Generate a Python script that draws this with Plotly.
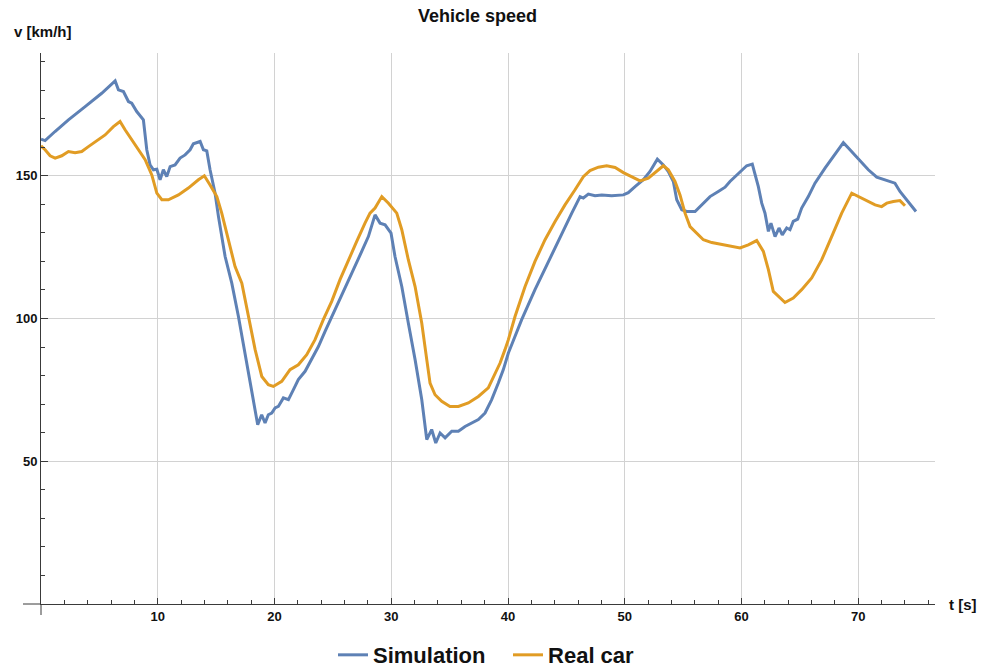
import plotly.graph_objects as go

# ---- data ----
sim_t = [0.0, 0.35, 1.2, 2.35, 3.78, 5.2, 6.35, 6.63, 7.06, 7.49, 7.77, 8.2, 8.77, 9.06, 9.34, 9.63,
         9.92, 10.2, 10.48, 10.77, 11.06, 11.48, 11.91, 12.34, 12.77, 13.05, 13.63, 13.91, 14.2, 14.48,
         14.91, 15.2, 15.77, 16.34, 16.91, 17.48, 18.05, 18.56, 18.9, 19.19, 19.47, 19.76, 20.05, 20.33,
         20.76, 21.19, 21.62, 22.04, 22.62, 23.19, 23.76, 24.33, 24.9, 25.76, 26.62, 27.47, 28.04, 28.61,
         29.04, 29.47, 29.98, 30.32, 30.9, 31.46, 32.04, 32.61, 33.04, 33.46, 33.81, 34.18, 34.61, 35.18,
         35.75, 36.32, 36.89, 37.46, 38.03, 38.6, 39.17, 39.6, 40.03, 41.17, 42.31, 43.45, 44.6, 45.46,
         46.17, 46.45, 46.88, 47.45, 48.03, 48.88, 49.88, 50.3, 50.88, 51.59, 52.16, 52.79, 53.3, 53.73,
         54.16, 54.45, 54.88, 55.3, 56.02, 56.59, 57.3, 58.01, 58.59, 59.01, 59.72, 60.44, 60.92, 61.15,
         61.44, 61.73, 62.01, 62.3, 62.52, 62.87, 63.21, 63.49, 63.87, 64.15, 64.43, 64.81, 65.15, 65.72,
         66.29, 67.15, 68.0, 68.72, 69.15, 70.0, 70.86, 71.58, 72.29, 73.14, 73.57, 74.14, 74.94]
sim_v = [162.8, 162.3, 165.5, 169.6, 174.2, 178.9, 183.2, 180.1, 179.5, 176.0, 175.4, 172.5, 169.6, 159.1,
         153.8, 152.1, 152.3, 148.6, 152.1, 149.7, 153.2, 153.8, 156.2, 157.3, 159.1, 161.2, 162.0, 159.1,
         158.7, 152.1, 143.9, 135.7, 121.7, 112.4, 100.7, 87.9, 75.1, 62.8, 66.3, 63.4, 66.3, 66.9, 68.7,
         69.2, 72.2, 71.6, 75.1, 78.6, 81.5, 85.6, 90.2, 95.5, 100.7, 108.3, 115.9, 123.5, 128.7, 136.3,
         133.4, 132.8, 129.9, 121.7, 111.2, 98.4, 85.6, 71.6, 57.6, 61.1, 56.4, 59.9, 58.2, 60.5, 60.5,
         62.2, 63.4, 64.6, 66.9, 71.6, 77.4, 82.1, 87.9, 99.6, 110.1, 120.0, 129.9, 136.9, 142.7, 142.2,
         143.6, 143.0, 143.3, 143.0, 143.3, 144.1, 146.2, 148.6, 151.5, 155.8, 153.8, 151.5, 148.0, 141.6,
         138.1, 137.5, 137.5, 139.8, 142.7, 144.5, 146.0, 148.0, 150.9, 153.5, 154.1, 150.9, 146.2, 140.4,
         136.9, 130.5, 133.4, 128.7, 131.7, 129.3, 131.7, 131.1, 134.0, 134.8, 138.7, 142.7, 147.4, 152.7,
         157.3, 161.6, 159.7, 155.8, 152.1, 149.5, 148.6, 147.4, 144.5, 141.6, 137.5]

car_t = [0.0, 0.35, 0.78, 1.21, 1.78, 2.35, 2.92, 3.49, 4.06, 4.78, 5.49, 6.2, 6.77, 7.2, 7.78, 8.34,
         8.92, 9.49, 9.92, 10.35, 10.91, 11.77, 12.62, 13.48, 13.99, 14.48, 15.06, 15.48, 16.05, 16.62,
         17.2, 17.76, 18.34, 18.91, 19.47, 19.9, 20.62, 21.33, 22.04, 22.76, 23.47, 24.18, 24.9, 25.61,
         26.33, 27.04, 27.75, 28.18, 28.61, 29.19, 29.76, 30.47, 30.9, 31.46, 32.04, 32.61, 33.04, 33.32,
         33.75, 34.32, 35.03, 35.75, 36.6, 37.46, 38.31, 38.89, 39.32, 39.74, 40.03, 40.6, 41.46, 42.31,
         43.17, 44.03, 44.88, 45.74, 46.45, 47.02, 47.74, 48.45, 49.17, 49.88, 50.6, 51.31, 52.02, 52.74,
         53.3, 53.73, 54.3, 54.73, 55.16, 55.59, 56.16, 56.73, 57.45, 58.59, 59.44, 59.87, 60.58, 61.3,
         61.87, 62.3, 62.72, 63.15, 63.72, 64.43, 65.15, 66.01, 66.87, 67.72, 68.58, 69.44, 70.0, 70.86,
         71.44, 72.0, 72.44, 73.0, 73.57, 74.0]
car_v = [160.5, 159.1, 157.0, 156.2, 157.0, 158.5, 158.1, 158.5, 160.2, 162.3, 164.3, 167.2, 169.0, 166.1,
         162.6, 159.1, 155.6, 150.3, 143.9, 141.6, 141.6, 143.3, 145.7, 148.6, 150.0, 146.8, 142.7, 136.9,
         127.6, 118.2, 112.4, 100.7, 89.1, 79.7, 76.8, 76.2, 78.0, 82.1, 83.8, 87.3, 92.6, 99.6, 106.0,
         113.6, 120.6, 127.0, 133.4, 136.9, 138.7, 142.7, 140.4, 136.9, 131.1, 120.6, 111.2, 98.4, 85.6,
         77.4, 73.3, 71.0, 69.2, 69.2, 70.4, 72.7, 75.7, 80.9, 84.4, 89.1, 92.6, 100.7, 111.2, 120.0,
         127.6, 134.0, 139.8, 145.1, 149.7, 151.8, 153.0, 153.5, 152.9, 151.1, 149.5, 148.2, 149.2, 151.5,
         153.5, 152.1, 148.0, 143.3, 136.9, 132.2, 129.9, 127.6, 126.6, 125.8, 125.0, 124.7, 125.8, 127.3,
         123.5, 117.1, 109.5, 107.7, 105.6, 107.2, 110.1, 114.2, 120.6, 128.7, 136.9, 143.9, 142.7, 141.0,
         139.8, 139.2, 140.4, 141.0, 141.3, 139.5]

x_ticks = [10, 20, 30, 40, 50, 60, 70]
y_ticks = [50, 100, 150]

BLUE = "#5E81B5"
ORANGE = "#E19C24"
AXIS = "#3a3a3a"
GRID = "#d2d2d2"
FONT = "Liberation Sans, Arial, sans-serif"

fig = go.Figure()
fig.add_trace(go.Scatter(x=sim_t, y=sim_v, mode="lines", name="Simulation",
                         line=dict(color=BLUE, width=3)))
fig.add_trace(go.Scatter(x=car_t, y=car_v, mode="lines", name="Real car",
                         line=dict(color=ORANGE, width=3)))

fig.update_layout(
    width=982, height=670,
    margin=dict(l=41, r=47, t=53, b=66, autoexpand=False),
    plot_bgcolor="white", paper_bgcolor="white",
    font=dict(family=FONT, color="#111111"),
    title=dict(text="Vehicle speed", x=477.5 / 982, xref="container", xanchor="center",
               y=1 - 16 / 670, yref="container", yanchor="middle",
               font=dict(size=18, weight="bold", color="#111111")),
    showlegend=True,
    legend=dict(orientation="h", x=0.5224, xanchor="center", y=-0.0926, yanchor="middle",
                font=dict(size=22, weight="bold", color="#111111"),
                itemwidth=30, entrywidth=130, entrywidthmode="pixels",
                bgcolor="rgba(0,0,0,0)"),
    xaxis=dict(range=[0, 76.57], tickmode="array", tickvals=x_ticks,
               ticks="inside", ticklen=6, tickwidth=1, tickcolor=AXIS,
               showline=True, linecolor=AXIS, linewidth=1,
               showgrid=True, gridcolor=GRID, gridwidth=1, zeroline=False,
               tickfont=dict(size=13, weight="bold", color="#111111"),
               minor=dict(tickmode="linear", tick0=0, dtick=2, ticks="inside", ticklen=4,
                          tickcolor=AXIS, showgrid=False)),
    yaxis=dict(range=[0, 193.0], tickmode="array", tickvals=y_ticks,
               ticks="inside", ticklen=7, tickwidth=1, tickcolor=AXIS,
               showline=True, linecolor=AXIS, linewidth=1,
               showgrid=True, gridcolor=GRID, gridwidth=1, zeroline=False,
               tickfont=dict(size=13, weight="bold", color="#111111"),
               minor=dict(tickmode="linear", tick0=0, dtick=10, ticks="inside", ticklen=4,
                          tickcolor=AXIS, showgrid=False)),
    annotations=[
        dict(text="v [km/h]", xref="paper", yref="paper", x=(12 - 41) / 894, y=1 + (53 - 32) / 551,
             xanchor="left", yanchor="middle", showarrow=False,
             font=dict(size=15, weight="bold", color="#111111")),
        dict(text="t [s]", xref="paper", yref="paper", x=(947 - 41) / 894, y=0,
             xanchor="left", yanchor="middle", showarrow=False,
             font=dict(size=15, weight="bold", color="#111111")),
    ],
    shapes=[
        dict(type="line", xref="paper", yref="paper", x0=0, x1=0, y0=0, y1=-11 / 551,
             line=dict(color=AXIS, width=1)),
        dict(type="line", xref="paper", yref="paper", x0=-18 / 894, x1=0, y0=0, y1=0,
             line=dict(color=AXIS, width=1)),
    ],
)

fig.write_html("out.html", config={"displayModeBar": False},
               post_script="document.body.style.margin='0';document.body.style.overflow='hidden';")
